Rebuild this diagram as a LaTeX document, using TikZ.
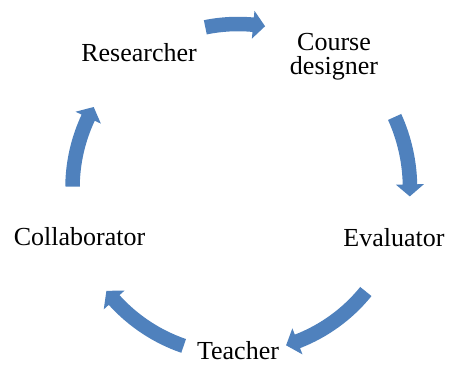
\documentclass[tikz,border=0pt]{standalone}
\usepackage{fontspec}
\setmainfont{Liberation Serif}
\definecolor{arrowblue}{HTML}{4F81BD}
\tikzset{
	lbl/.style={inner sep=0pt,font=\fontsize{26}{24}\selectfont},
	cyclearrow/.style={fill=arrowblue}
}
\begin{document}
\begin{tikzpicture}[x=1pt,y=1pt,line join=round]
				\useasboundingbox (0,0) rectangle (449,365);
				\def\shaft{7.25}
				\def\head{14}
				\def\headlen{12}
				\coordinate (cen) at (238,177);
				\path
				(139,303) node[lbl,anchor=base] (res) {Researcher}
				(334,332) node[lbl,anchor=north,align=center] (des) {Course\\designer}
				(394,119) node[lbl,anchor=base] (eva) {Evaluator}
				(238,5.5) node[lbl,anchor=base] (tea) {Teacher}
				(79.5,120) node[lbl,anchor=base] (col) {Collaborator}
				;
				% block arrows on the circle, tail angle -> tip angle
				\foreach \rad/\ta/\tb in {164/101.5/80.5, 172/24.4/-2.8, 164.5/-39/-73, 167/-109/-142, 165.5/179.5/150.7}{
					\pgfmathsetmacro\hb{\tb+\headlen/\rad*180/pi}
					\fill[cyclearrow]
					([shift={(\ta:\rad+\shaft)}]cen) arc[start angle=\ta, end angle=\hb, radius=\rad+\shaft]
					-- ([shift={(\hb:\rad+\head)}]cen)
					-- ([shift={(\tb:\rad)}]cen)
					-- ([shift={(\hb:\rad-\head)}]cen)
					-- ([shift={(\hb:\rad-\shaft)}]cen) arc[start angle=\hb, end angle=\ta, radius=\rad-\shaft]
					-- cycle;
				}
		\end{tikzpicture}
\end{document}
